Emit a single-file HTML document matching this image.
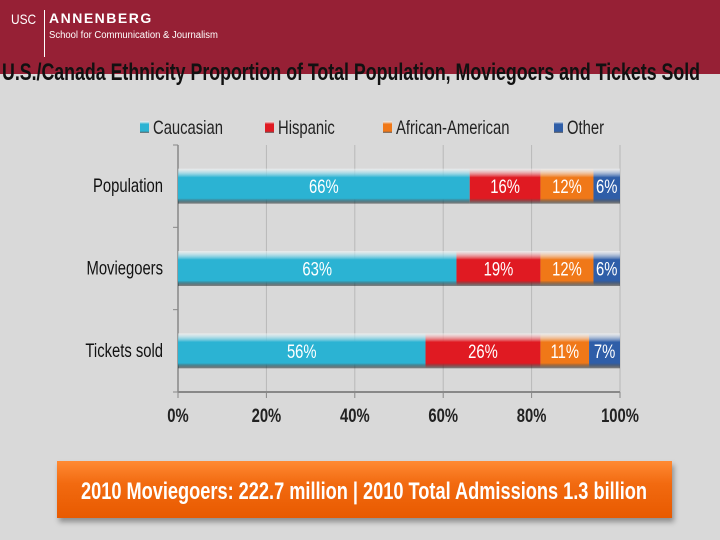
<!DOCTYPE html>
<html><head><meta charset="utf-8"><style>
body{margin:0;width:720px;height:540px;background:#d9d9d9;font-family:"Liberation Sans",sans-serif;overflow:hidden;position:relative}
#hdr{position:absolute;left:0;top:0;width:720px;height:74px;background:#962035}
</style></head><body>
<div id="hdr">
<div style="position:absolute;left:11px;top:11px;color:#fff;font-size:14px;transform:scaleX(0.85);transform-origin:0 0">USC</div>
<div style="position:absolute;left:44px;top:10px;width:1px;height:47px;background:#fff"></div>
<div style="position:absolute;left:49px;top:10px;color:#fff;font-size:14px;font-weight:bold;letter-spacing:1.5px">ANNENBERG</div>
<div style="position:absolute;left:49px;top:30px;color:#fff;font-size:10px;transform:scaleX(0.95);transform-origin:0 0">School for Communication &amp; Journalism</div>
</div>
<svg id="chart" width="720" height="540" style="position:absolute;left:0;top:0">
<text x="2" y="80" font-size="24" font-weight="bold" fill="#111" textLength="698" lengthAdjust="spacingAndGlyphs">U.S./Canada Ethnicity Proportion of Total Population, Moviegoers and Tickets Sold</text>
</svg>
<div style="position:absolute;left:57px;top:461px;width:615px;height:57px;background:linear-gradient(#ff8a33,#f26a10 40%,#e85a00);box-shadow:2px 4px 5px rgba(0,0,0,.35)">
<svg width="615" height="57"><text x="307" y="38" text-anchor="middle" font-size="24" font-weight="bold" fill="#fff" textLength="566" lengthAdjust="spacingAndGlyphs">2010 Moviegoers: 222.7 million | 2010 Total Admissions 1.3 billion</text></svg>
</div>
<script>
const categories=["Population","Moviegoers","Tickets sold"];
const caucasian=[66,63,56];
const hispanic=[16,19,26];
const african=[12,12,11];
const other=[6,6,7];
const seriesNames=["Caucasian","Hispanic","African-American","Other"];
const ticks=[0,20,40,60,80,100];
const svg=document.getElementById('chart');
const NS='http://www.w3.org/2000/svg';
const x0=178,x1=620,top0=145,bot=392;
const xs=v=>x0+(x1-x0)*v/100;
const band=(bot-top0)/categories.length;
const barH=35;
const SX=0.78;
function mk(t,a,p){const e=document.createElementNS(NS,t);for(const k in a)e.setAttribute(k,a[k]);(p||svg).appendChild(e);return e;}
function txt(x,y,s,anchor,size,fill,weight,p){const t=mk('text',{x:0,y:0,'text-anchor':anchor,'font-size':size,fill:fill,'font-weight':weight||'normal',transform:'translate('+x+','+y+') scale('+SX+',1)'},p);t.textContent=s;return t;}
const cols=["#2bb3d3","#e01a22","#f07818","#2f5ea8"];
const defs=mk('defs',{});
cols.forEach((c,i)=>{const g=mk('linearGradient',{id:'g'+i,x1:0,y1:0,x2:0,y2:1},defs);
mk('stop',{offset:'0',"stop-color":'#fff',"stop-opacity":'0.45'},g);mk('stop',{offset:'0.25',"stop-color":c},g);mk('stop',{offset:'0.85',"stop-color":c},g);mk('stop',{offset:'1',"stop-color":'#000',"stop-opacity":'0.4'},g);});
ticks.forEach(t=>{const l=mk('line',{x1:xs(t),x2:xs(t),y1:top0,y2:bot,stroke:'#b8b8b8','stroke-width':1});

const tk=mk('line',{x1:xs(t),x2:xs(t),y1:bot,y2:bot+6,stroke:'#888'});

const tx=txt(xs(t),422,t+'%','middle',19,'#222','bold');
});
const ax=mk('line',{x1:x0,x2:x1,y1:bot,y2:bot,stroke:'#888','stroke-width':2});

const ay=mk('line',{x1:x0,x2:x0,y1:top0,y2:bot,stroke:'#888','stroke-width':1.5});

for(let i=0;i<=categories.length;i++){const t=mk('line',{x1:x0-5,x2:x0,y1:top0+band*i,y2:top0+band*i,stroke:'#888'});
}
const series=[caucasian,hispanic,african,other];
categories.forEach((c,i)=>{const cy=top0+band*i+band/2;
const lb=txt(163,cy+6,c,'end',19,'#111');

let acc=0;series.forEach((s,j)=>{const v=s[i];
const r=mk('rect',{x:xs(acc),y:cy-barH/2,width:xs(acc+v)-xs(acc),height:barH,fill:'url(#g'+j+')'});

const t=txt((xs(acc)+xs(acc+v))/2,cy+7,v+'%','middle',19,'#fff');

acc+=v;});});
const lx=[140,265,383,554];
seriesNames.forEach((n,j)=>{const g=mk('g',{});
mk('rect',{x:lx[j],y:121,width:9,height:12,fill:'url(#g'+j+')'},g);
txt(lx[j]+13,134,n,'start',19,'#222','normal',g);});
</script>
</body></html>
